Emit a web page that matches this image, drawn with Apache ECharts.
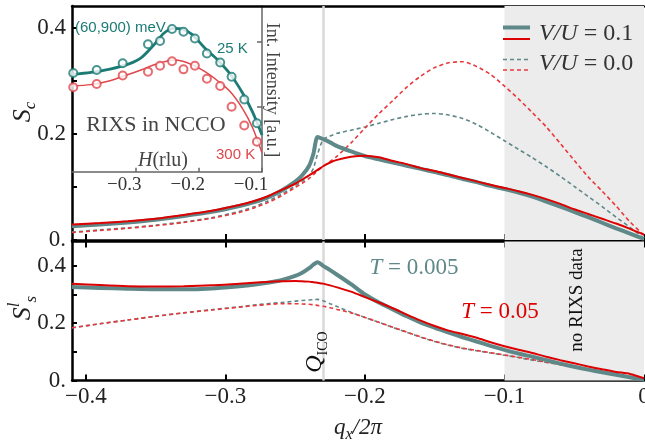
<!DOCTYPE html>
<html>
<head>
<meta charset="utf-8">
<script src="https://cdn.jsdelivr.net/npm/echarts@6/dist/echarts.min.js"></script>
<style>html,body{margin:0;padding:0;background:#fff}#c{width:645px;height:445px}</style>
</head>
<body>
<div id="c"></div>
<script>
// ---------- data ----------
const qx = [-0.41,-0.39,-0.37,-0.35,-0.33,-0.31,-0.29,-0.28,-0.27,-0.26,-0.25,-0.245,-0.24,-0.237,-0.234,-0.23,-0.225,-0.22,-0.21,-0.20,-0.19,-0.18,-0.17,-0.16,-0.15,-0.14,-0.13,-0.12,-0.11,-0.10,-0.09,-0.08,-0.07,-0.06,-0.05,-0.04,-0.03,-0.02,-0.01,0];

// top panel S_c
const scGraySolid = [0.026,0.029,0.033,0.038,0.045,0.053,0.064,0.071,0.080,0.093,0.110,0.122,0.140,0.162,0.194,0.190,0.184,0.177,0.167,0.158,0.152,0.146,0.140,0.134,0.128,0.122,0.115,0.109,0.102,0.096,0.0895,0.082,0.0725,0.063,0.053,0.043,0.0325,0.022,0.012,0.002];
const scRedSolid  = [0.029,0.032,0.0355,0.040,0.047,0.055,0.066,0.073,0.082,0.094,0.106,0.114,0.122,0.127,0.132,0.139,0.146,0.151,0.157,0.159,0.156,0.149,0.143,0.1355,0.130,0.1235,0.117,0.1105,0.104,0.098,0.092,0.085,0.077,0.068,0.058,0.049,0.040,0.031,0.021,0.010];
const scGrayDash  = [0.015,0.019,0.023,0.028,0.034,0.042,0.054,0.062,0.073,0.086,0.102,0.111,0.122,0.135,0.162,0.189,0.196,0.201,0.207,0.213,0.220,0.227,0.233,0.237,0.2385,0.2355,0.229,0.218,0.203,0.187,0.171,0.155,0.138,0.120,0.101,0.082,0.063,0.043,0.024,0.003];
const scRedDash   = [0.014,0.018,0.022,0.027,0.033,0.041,0.052,0.060,0.070,0.083,0.099,0.107,0.116,0.123,0.130,0.139,0.148,0.158,0.183,0.211,0.238,0.263,0.288,0.309,0.325,0.334,0.336,0.327,0.312,0.290,0.266,0.240,0.213,0.182,0.150,0.119,0.092,0.064,0.034,0.009];

// bottom panel S^l_s
const slGraySolid = [0.326,0.323,0.320,0.318,0.318,0.321,0.329,0.334,0.341,0.350,0.365,0.376,0.392,0.404,0.413,0.400,0.385,0.369,0.336,0.300,0.272,0.248,0.224,0.202,0.184,0.167,0.151,0.136,0.121,0.107,0.094,0.083,0.071,0.059,0.048,0.038,0.029,0.020,0.011,0.003];
const slRedSolid  = [0.338,0.333,0.329,0.328,0.329,0.332,0.338,0.341,0.344,0.346,0.347,0.346,0.345,0.343,0.341,0.338,0.332,0.325,0.310,0.291,0.272,0.252,0.230,0.209,0.190,0.174,0.162,0.149,0.1335,0.1195,0.107,0.096,0.083,0.071,0.060,0.049,0.039,0.030,0.023,0.008];
const slGrayDash  = [0.184,0.198,0.211,0.224,0.236,0.247,0.257,0.263,0.268,0.272,0.277,0.279,0.281,0.282,0.283,0.278,0.268,0.258,0.238,0.220,0.203,0.185,0.168,0.151,0.136,0.123,0.112,0.104,0.096,0.088,0.080,0.071,0.063,0.055,0.046,0.038,0.030,0.021,0.012,0.003];
const slRedDash   = [0.184,0.198,0.211,0.224,0.236,0.246,0.256,0.261,0.265,0.268,0.268,0.267,0.266,0.264,0.262,0.259,0.254,0.248,0.236,0.220,0.203,0.186,0.169,0.152,0.137,0.124,0.113,0.105,0.097,0.089,0.081,0.073,0.064,0.056,0.047,0.039,0.031,0.022,0.014,0.006];

// inset: RIXS in NCCO
const hPoints = [-0.398,-0.361,-0.32,-0.28,-0.261,-0.242,-0.224,-0.206,-0.187,-0.166,-0.148,-0.128,-0.108];
const int25K  = [1.52,1.565,1.67,1.96,2.01,2.195,2.155,2.05,1.82,1.68,1.46,1.11,0.745];
const int300K = [1.30,1.35,1.48,1.54,1.63,1.70,1.575,1.63,1.43,1.32,1.0,0.71,0.46];
const hFit    = [-0.40,-0.37,-0.34,-0.31,-0.29,-0.27,-0.255,-0.24,-0.225,-0.21,-0.19,-0.17,-0.15,-0.13,-0.115,-0.10];
const fit25K  = [1.50,1.53,1.58,1.66,1.76,1.96,2.13,2.205,2.19,2.11,1.90,1.72,1.50,1.20,0.92,0.565];
const fit300K = [1.32,1.34,1.40,1.50,1.57,1.645,1.69,1.72,1.70,1.645,1.54,1.40,1.23,0.96,0.68,0.29];

// ticks / markers
const xTicks = [-0.4,-0.3,-0.2,-0.1,0];
const yTicks = [0,0.1,0.2,0.3,0.4];
const yLabels = [0,0.2,0.4];
const insetXTicks = [-0.3,-0.2,-0.1];
const insetYTicks = [1,2];
const qICO = -0.234;
const noDataFrom = -0.1;

// ---------- styling ----------
const GRAY = '#5f8888', RED = '#dd0000', REDD = '#e8383c', TEAL = '#1c7b74', IRED = '#e0474c';
const SERIF = 'Liberation Serif';
const pair = (xs, ys) => xs.map((x, i) => [x, ys[i]]);
const fmtX = v => Math.abs(v) < 1e-9 ? '0' : (v < 0 ? '\u2212' : '') + Math.abs(v).toFixed(1);
const fmtY = v => Math.abs(v) < 1e-9 ? '0.' : v.toFixed(1);
const axLine = {show: true, onZero: false, lineStyle: {color: '#000', width: 2.5}};
const tickIn = (vals, len) => ({show: true, inside: true, length: len, customValues: vals, lineStyle: {color: '#000', width: 2}});
const lblFont = {fontFamily: SERIF, fontSize: 23, color: '#222'};

function bgSeries(xi, yi) {
  return {
    type: 'line', xAxisIndex: xi, yAxisIndex: yi, data: [[noDataFrom, 0], [0, 0]],
    symbol: 'none', lineStyle: {opacity: 0}, silent: true, z: 1,
    markArea: {silent: true, z: 1, itemStyle: {color: '#ececec'}, data: [[{xAxis: noDataFrom}, {xAxis: 0}]]},
    markLine: {silent: true, z: 1, symbol: 'none', label: {show: false},
      lineStyle: {color: '#d9d9d9', width: 2.5, type: 'solid'}, data: [{xAxis: qICO}]}
  };
}
function curve(xi, yi, ys, color, width, dashed, z) {
  return {
    type: 'line', xAxisIndex: xi, yAxisIndex: yi, data: pair(qx, ys), symbol: 'none',
    smooth: 0.25, z: z, silent: true,
    lineStyle: {color: color, width: width, type: dashed ? [4, 3] : 'solid'}
  };
}

const chart = echarts.init(document.getElementById('c'), null, {renderer: 'canvas'});
const gridBase = {containLabel: false, outerBoundsMode: 'none'};
const option = {
  animation: false,
  backgroundColor: '#fff',
  grid: [
    Object.assign({left: 72, right: 1, top: 6, height: 234}, gridBase),
    Object.assign({left: 72, right: 1, top: 241.5, height: 139}, gridBase),
    Object.assign({left: 72, top: 6, width: 190, height: 165.7}, gridBase)
  ],
  xAxis: [
    {gridIndex: 0, type: 'value', min: -0.41, max: 0, position: 'bottom', axisLine: axLine,
     axisTick: tickIn(xTicks, 6), axisLabel: {show: false}, splitLine: {show: false}},
    {gridIndex: 0, type: 'value', min: -0.41, max: 0, position: 'top', axisLine: axLine,
     axisTick: {show: false}, axisLabel: {show: false}, splitLine: {show: false}},
    {gridIndex: 1, type: 'value', min: -0.41, max: 0, position: 'bottom', axisLine: axLine,
     axisTick: tickIn(xTicks, 6),
     axisLabel: Object.assign({show: true, customValues: xTicks, formatter: fmtX, margin: 5, hideOverlap: false}, lblFont),
     splitLine: {show: false}},
    {gridIndex: 1, type: 'value', min: -0.41, max: 0, position: 'top', axisLine: axLine,
     axisTick: tickIn(xTicks, 6), axisLabel: {show: false}, splitLine: {show: false}},
    {gridIndex: 2, type: 'value', min: -0.4, max: -0.1, position: 'bottom',
     axisLine: {show: true, onZero: false, lineStyle: {color: '#666', width: 1.5}},
     axisTick: {show: true, inside: true, length: 4, customValues: insetXTicks, lineStyle: {color: '#666', width: 1.5}},
     axisLabel: {show: true, customValues: insetXTicks, formatter: fmtX, margin: 4, padding: [0, 22, 0, 0],
       fontFamily: SERIF, fontSize: 19, color: '#333'},
     splitLine: {show: false}}
  ],
  yAxis: [
    {gridIndex: 0, type: 'value', min: 0, max: 0.441, position: 'left', axisLine: axLine,
     axisTick: tickIn(yTicks, 5),
     axisLabel: Object.assign({show: true, customValues: yLabels, formatter: fmtY, margin: 6}, lblFont),
     splitLine: {show: false}},
    {gridIndex: 1, type: 'value', min: 0, max: 0.485, position: 'left', axisLine: axLine,
     axisTick: tickIn(yTicks, 5),
     axisLabel: Object.assign({show: true, customValues: yLabels, formatter: fmtY, margin: 6}, lblFont),
     splitLine: {show: false}},
    {gridIndex: 2, type: 'value', min: 0, max: 2.55, position: 'right',
     axisLine: {show: true, onZero: false, lineStyle: {color: '#666', width: 1.5}},
     axisTick: {show: true, inside: true, length: 5, customValues: insetYTicks, lineStyle: {color: '#666', width: 1.5}},
     axisLabel: {show: false}, splitLine: {show: false}}
  ],
  series: [
    bgSeries(0, 0),
    curve(0, 0, scGrayDash, GRAY, 1.6, true, 3),
    curve(0, 0, scRedDash, REDD, 1.6, true, 4),
    curve(0, 0, scGraySolid, GRAY, 4, false, 5),
    curve(0, 0, scRedSolid, RED, 2, false, 6),
    bgSeries(2, 1),
    curve(2, 1, slGrayDash, GRAY, 1.6, true, 3),
    curve(2, 1, slRedDash, REDD, 1.6, true, 4),
    curve(2, 1, slGraySolid, GRAY, 4, false, 5),
    curve(2, 1, slRedSolid, RED, 2, false, 6),
    {type: 'line', xAxisIndex: 4, yAxisIndex: 2, data: pair(hFit, fit25K), symbol: 'none', smooth: 0.3,
     z: 5, silent: true, lineStyle: {color: TEAL, width: 2.8}},
    {type: 'line', xAxisIndex: 4, yAxisIndex: 2, data: pair(hFit, fit300K), symbol: 'none', smooth: 0.3,
     z: 5, silent: true, lineStyle: {color: IRED, width: 1.5}},
    {type: 'scatter', xAxisIndex: 4, yAxisIndex: 2, data: pair(hPoints, int25K), symbol: 'emptyCircle',
     symbolSize: 8, z: 6, silent: true, itemStyle: {color: TEAL, borderColor: TEAL, borderWidth: 1.4}},
    {type: 'scatter', xAxisIndex: 4, yAxisIndex: 2, data: pair(hPoints, int300K), symbol: 'emptyCircle',
     symbolSize: 8, z: 6, silent: true, itemStyle: {color: IRED, borderColor: IRED, borderWidth: 1.4}}
  ],
  graphic: []
};

const it = (size, color) => ({fontFamily: SERIF, fontStyle: 'italic', fontSize: size, fill: color});
const up = (size, color) => ({fontFamily: SERIF, fontStyle: 'normal', fontSize: size, fill: color});
function rtext(x, y, text, rich, rot, align) {
  return {type: 'text', x: x, y: y, rotation: rot || 0, z: 100, silent: true,
    style: {text: text, x: 0, y: 0, align: align || 'center', verticalAlign: 'middle',
      textAlign: align || 'center', textVerticalAlign: 'middle', rich: rich}};
}
function seg(x1, x2, y, color, w, dashed) {
  return {type: 'line', z: 100, silent: true, shape: {x1: x1, y1: y, x2: x2, y2: y},
    style: {stroke: color, lineWidth: w, lineDash: dashed ? [4, 3] : null}};
}
const g = option.graphic;
// axis titles
g.push(rtext(23, 112, '{a|S}{b|c}', {a: Object.assign(it(26, '#222'), {lineHeight: 32}), b: Object.assign(it(17, '#222'), {lineHeight: 17, verticalAlign: 'bottom'})}, Math.PI / 2));
g.push(rtext(23, 308, '{a|S}{c|l}{b|s}', {a: Object.assign(it(26, '#222'), {lineHeight: 34}), c: Object.assign(it(17, '#222'), {lineHeight: 17, verticalAlign: 'top'}), b: Object.assign(it(17, '#222'), {lineHeight: 17, verticalAlign: 'bottom'})}, Math.PI / 2));
g.push(rtext(358, 428, '{a|q}{b|x}{c|/2\u03c0}', {a: Object.assign(it(23, '#222'), {lineHeight: 30}), b: Object.assign(it(16, '#222'), {lineHeight: 16, verticalAlign: 'bottom'}), c: Object.assign(it(23, '#222'), {lineHeight: 30})}));
// legend
g.push(seg(503, 530, 27.5, GRAY, 4, false));
g.push(seg(503, 530, 39, RED, 2, false));
g.push(seg(503, 530, 59.5, GRAY, 1.6, true));
g.push(seg(503, 530, 70, REDD, 1.6, true));
g.push(rtext(539, 34, '{a|V/U}{b| = 0.1}', {a: it(24, '#333'), b: up(24, '#333')}, 0, 'left'));
g.push(rtext(539, 64, '{a|V/U}{b| = 0.0}', {a: it(24, '#333'), b: up(24, '#333')}, 0, 'left'));
// bottom panel annotations
g.push(rtext(414, 268, '{a|T}{b| = 0.005}', {a: it(23, GRAY), b: up(23, GRAY)}));
g.push(rtext(500, 312, '{a|T}{b| = 0.05}', {a: it(23, RED), b: up(23, RED)}));
g.push(rtext(577, 300, '{a|no RIXS data}', {a: up(19, '#111')}, Math.PI / 2));
g.push(rtext(315, 352, '{a|Q}{b|ICO}', {a: Object.assign(it(24, '#111'), {lineHeight: 30}), b: Object.assign(up(14, '#111'), {lineHeight: 14, verticalAlign: 'bottom'})}, Math.PI / 2));
// inset annotations
g.push(rtext(75, 28, '{a|(60,900) meV}', {a: {fontFamily: 'Liberation Sans', fontSize: 15, fill: TEAL}}, 0, 'left'));
g.push(rtext(217, 49, '{a|25 K}', {a: {fontFamily: 'Liberation Sans', fontSize: 15, fill: TEAL}}, 0, 'left'));
g.push(rtext(216, 155, '{a|300 K}', {a: {fontFamily: 'Liberation Sans', fontSize: 15, fill: IRED}}, 0, 'left'));
g.push(rtext(156, 125, '{a|RIXS in NCCO}', {a: up(22, '#444')}));
g.push(rtext(163, 161, '{a|H}{b|(rlu)}', {a: it(20, '#444'), b: up(20, '#444')}));
g.push(rtext(272, 90, '{a|Int. Intensity [a.u.]}', {a: up(18, '#444')}, -Math.PI / 2));

chart.setOption(option);
</script>
</body>
</html>
